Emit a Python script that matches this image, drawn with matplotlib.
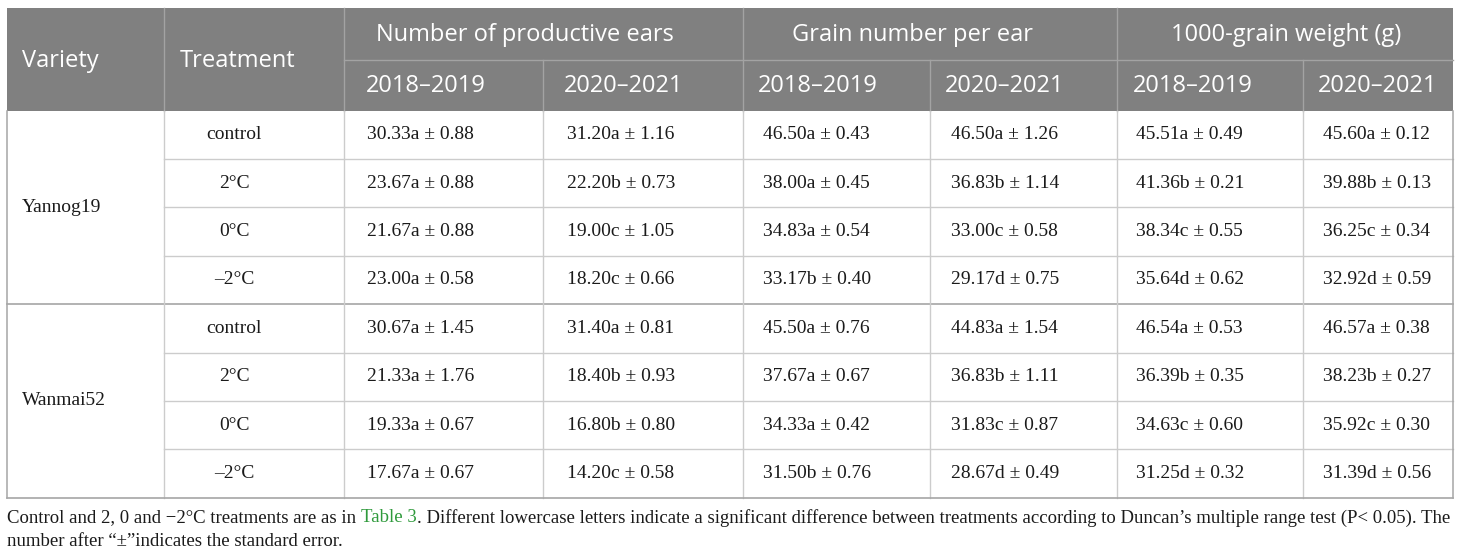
import matplotlib.pyplot as plt
from matplotlib.patches import Rectangle

# --- table content ---
varieties = ["Yannog19", "Wanmai52"]
treatments = ["control", "2°C", "0°C", "–2°C"]
groups = ["Number of productive ears", "Grain number per ear", "1000-grain weight (g)"]
seasons = ["2018–2019", "2020–2021"]

ears_1819 = ["30.33a ± 0.88", "23.67a ± 0.88", "21.67a ± 0.88", "23.00a ± 0.58",
             "30.67a ± 1.45", "21.33a ± 1.76", "19.33a ± 0.67", "17.67a ± 0.67"]
ears_2021 = ["31.20a ± 1.16", "22.20b ± 0.73", "19.00c ± 1.05", "18.20c ± 0.66",
             "31.40a ± 0.81", "18.40b ± 0.93", "16.80b ± 0.80", "14.20c ± 0.58"]
grain_1819 = ["46.50a ± 0.43", "38.00a ± 0.45", "34.83a ± 0.54", "33.17b ± 0.40",
              "45.50a ± 0.76", "37.67a ± 0.67", "34.33a ± 0.42", "31.50b ± 0.76"]
grain_2021 = ["46.50a ± 1.26", "36.83b ± 1.14", "33.00c ± 0.58", "29.17d ± 0.75",
              "44.83a ± 1.54", "36.83b ± 1.11", "31.83c ± 0.87", "28.67d ± 0.49"]
tgw_1819 = ["45.51a ± 0.49", "41.36b ± 0.21", "38.34c ± 0.55", "35.64d ± 0.62",
            "46.54a ± 0.53", "36.39b ± 0.35", "34.63c ± 0.60", "31.25d ± 0.32"]
tgw_2021 = ["45.60a ± 0.12", "39.88b ± 0.13", "36.25c ± 0.34", "32.92d ± 0.59",
            "46.57a ± 0.38", "38.23b ± 0.27", "35.92c ± 0.30", "31.39d ± 0.56"]

note_1a = "Control and 2, 0 and \u22122°C treatments are as in "
note_1b = "Table 3"
note_1c = (". Different lowercase letters indicate a significant difference between "
           "treatments according to Duncan\u2019s multiple range test (P< 0.05). The")
note_2 = "number after \u201c\u00b1\u201dindicates the standard error."

data_cols = [ears_1819, ears_2021, grain_1819, grain_2021, tgw_1819, tgw_2021]

# --- layout (pixel coordinates) ---
W, H = 1460, 556
col_x = [7, 164, 344, 543, 743, 930, 1117, 1303, 1453]
group_cx = [525, 912, 1286]
season_pad = [22, 21, 15, 15, 16, 15]
cell_pad = [23, 24, 20, 21, 19, 20]
top, mid, head_bot = 8, 60, 110.5
row_h = 48.4
n_rows = len(varieties) * len(treatments)
bottom = head_bot + n_rows * row_h

head_bg = "#808080"
head_line = "#a3a3a3"
grid_c = "#cccccc"
edge_c = "#a6a6a6"

sans = "Open Sans"
serif = "Liberation Serif"

fig = plt.figure(figsize=(W / 100, H / 100), dpi=100)
ax = fig.add_axes([0, 0, 1, 1])
ax.set_xlim(0, W)
ax.set_ylim(H, 0)
ax.axis("off")

# header block
ax.add_patch(Rectangle((col_x[0], top), col_x[-1] - col_x[0], head_bot - top,
                       facecolor=head_bg, edgecolor="none"))
ax.plot([col_x[2], col_x[-1]], [mid, mid], color=head_line, lw=1)
for i, x in enumerate(col_x[1:-1], start=1):
    y0 = top if i in (1, 2, 4, 6) else mid
    ax.plot([x, x], [y0, head_bot], color=head_line, lw=1)

hk = dict(color="white", fontsize=17, family=sans, va="center")
ax.text(col_x[0] + 15, 61, "Variety", ha="left", **hk)
ax.text(col_x[1] + 16, 61, "Treatment", ha="left", **hk)
for g, name in enumerate(groups):
    ax.text(group_cx[g], 35, name, ha="center", **hk)
    for s, season in enumerate(seasons):
        k = 2 * g + s
        ax.text(col_x[2 + k] + season_pad[k], 86, season, ha="left", **hk)

# body grid
for r in range(1, n_rows):
    y = head_bot + r * row_h
    if r % len(treatments) == 0:
        ax.plot([col_x[0], col_x[-1]], [y, y], color=edge_c, lw=1.2)
    else:
        ax.plot([col_x[1], col_x[-1]], [y, y], color=grid_c, lw=1)
for i, x in enumerate(col_x):
    c = edge_c if i in (0, len(col_x) - 1) else grid_c
    ax.plot([x, x], [head_bot, bottom], color=c, lw=1.1 if c == edge_c else 1)
ax.plot([col_x[0], col_x[-1]], [bottom, bottom], color=edge_c, lw=1.2)

bk = dict(color="#1a1a1a", fontsize=14, family=serif, va="center")
for v, name in enumerate(varieties):
    yc = head_bot + (v + 0.5) * len(treatments) * row_h
    ax.text(col_x[0] + 15, yc, name, ha="left", **bk)
    for t, tr in enumerate(treatments):
        ax.text(234, head_bot + (v * len(treatments) + t + 0.5) * row_h, tr,
                ha="center", **bk)

for c, col in enumerate(data_cols):
    for r, val in enumerate(col):
        ax.text(col_x[2 + c] + cell_pad[c], head_bot + (r + 0.5) * row_h, val,
                ha="left", **bk)

# footnote: first line spans the full table width
inv = ax.transData.inverted()


def right_edge(t):
    return inv.transform((t.get_window_extent().x1, 0))[0]


nk = dict(fontsize=14, family=serif, va="center")
probe = ax.text(col_x[0], 518, note_1a + note_1b + note_1c, ha="left", **nk)
fig.canvas.draw()
fs = 14 * (col_x[-1] - col_x[0]) / (right_edge(probe) - col_x[0])
probe.remove()
nk["fontsize"] = fs

t1 = ax.text(col_x[0], 518, note_1a, ha="left", color="#1a1a1a", **nk)
fig.canvas.draw()
t2 = ax.text(right_edge(t1), 518, note_1b, ha="left", color="#2f9a3c", **nk)
fig.canvas.draw()
ax.text(right_edge(t2), 518, note_1c, ha="left", color="#1a1a1a", **nk)
ax.text(col_x[0], 541, note_2, ha="left", color="#1a1a1a", **nk)

fig.savefig("out.png", dpi=100, facecolor="white")
